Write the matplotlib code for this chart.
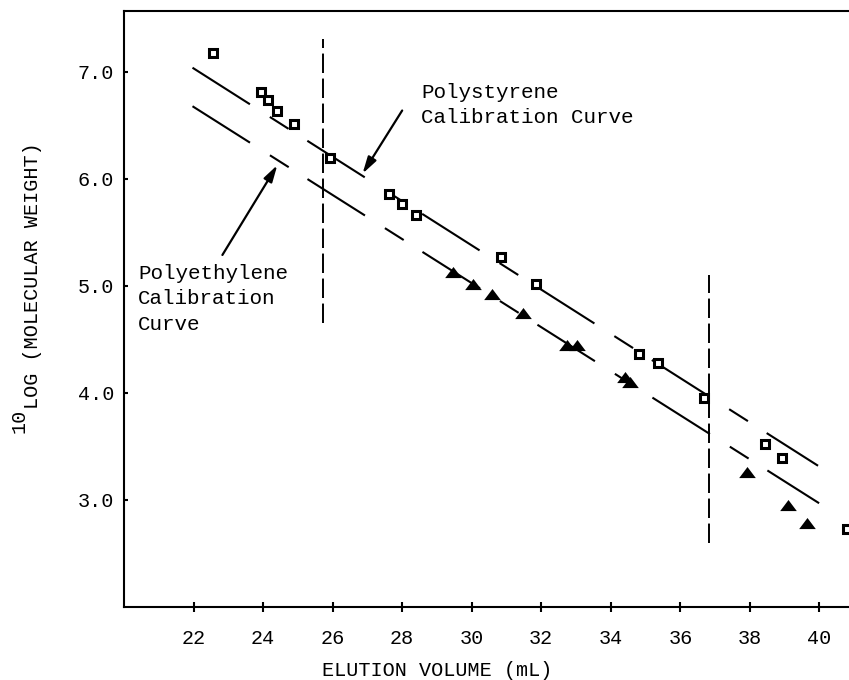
import matplotlib
matplotlib.use("Agg")
import matplotlib.pyplot as plt

# ---- data ----
ps_x = [22.57, 23.95, 24.15, 24.41, 24.90, 25.93, 27.63, 27.99, 28.40, 30.85,
        31.85, 34.82, 35.37, 36.68, 38.43, 38.92, 40.79]
ps_y = [7.18, 6.81, 6.74, 6.64, 6.51, 6.20, 5.86, 5.77, 5.66, 5.27,
        5.02, 4.36, 4.28, 3.95, 3.52, 3.39, 2.73]
pe_x = [29.47, 30.04, 30.59, 31.48, 32.75, 33.03, 34.41, 34.56, 37.92, 39.10, 39.64]
pe_y = [5.12, 5.01, 4.92, 4.74, 4.44, 4.44, 4.14, 4.09, 3.25, 2.94, 2.78]

ps_line_x = [21.97, 39.96]
ps_line_y = [7.04, 3.32]
pe_line_x = [21.97, 39.99]
pe_line_y = [6.68, 2.97]

vline1_x = 25.73
vline1_y = [4.65, 7.31]
vline2_x = 36.83
vline2_y = [2.60, 5.10]

x_ticks = [22, 24, 26, 28, 30, 32, 34, 36, 38, 40]
y_ticks = [3.0, 4.0, 5.0, 6.0, 7.0]
y_ticklabels = ["3.0", "4.0", "5.0", "6.0", "7.0"]

FONT = "Liberation Mono"
plt.rcParams["font.family"] = [FONT, "DejaVu Sans Mono"]
plt.rcParams["lines.scale_dashes"] = False

W, H = 849, 680
fig = plt.figure(figsize=(W / 100, H / 100), dpi=100)
ax = fig.add_axes([124 / W, 1 - 607 / H, (W - 124) / W, (607 - 11) / H])
ax.set_xlim(20, 40.85)
ax.set_ylim(2.0, 7.57)

# calibration lines
dash = (0, (49, 17, 16, 16))
ax.plot(ps_line_x, ps_line_y, color="black", lw=1.5, linestyle=dash, zorder=2)
ax.plot(pe_line_x, pe_line_y, color="black", lw=1.5, linestyle=dash, zorder=2)

# vertical dashed lines
vdash = (0, (14, 4))
ax.plot([vline1_x, vline1_x], vline1_y, color="black", lw=1.4, linestyle=vdash, zorder=2)
ax.plot([vline2_x, vline2_x], vline2_y, color="black", lw=1.4, linestyle=vdash, zorder=2)

# data markers
ax.plot(ps_x, ps_y, linestyle="none", marker="s", ms=5.4, mew=2.2,
        mfc="white", mec="black", zorder=4, clip_on=False)
tri = [(-1, -0.55), (1, -0.55), (0, 0.78)]
ax.plot(pe_x, pe_y, linestyle="none", marker=tri, ms=12, mew=0,
        mfc="black", zorder=4)

# annotations
ax.text(28.55, 6.90, "Polystyrene\nCalibration Curve", fontsize=15,
        ha="left", va="top", linespacing=1.45, family=FONT)
ax.text(20.41, 5.21, "Polyethylene\nCalibration\nCurve", fontsize=15,
        ha="left", va="top", linespacing=1.45, family=FONT)
aprops = dict(arrowstyle="-|>,head_length=1.0,head_width=0.28", lw=1.6,
              color="black", shrinkA=0, shrinkB=0)
ax.annotate("", xy=(26.86, 6.05), xytext=(28.0, 6.64), arrowprops=aprops)
ax.annotate("", xy=(24.41, 6.13), xytext=(22.83, 5.29), arrowprops=aprops)

# axes styling
for s in ["left", "bottom", "top"]:
    ax.spines[s].set_linewidth(1.5)
ax.spines["right"].set_visible(False)
ax.set_xticks(x_ticks)
ax.set_yticks(y_ticks)
ax.set_yticklabels(y_ticklabels)
ax.tick_params(axis="x", direction="inout", length=7, width=1.5, pad=12,
               labelsize=14.5, colors="black")
ax.tick_params(axis="y", direction="in", length=3, width=1.5, pad=7,
               labelsize=14.5, colors="black")

# axis labels
fig.text(437 / W, 1 - 670 / H, "ELUTION VOLUME (mL)", fontsize=14.5,
         ha="center", va="center", family=FONT)
fig.text(19 / W, 1 - 421 / H, "10", fontsize=14.5, rotation=90,
         ha="center", va="center", family=FONT)
fig.text(33 / W, 1 - 409 / H, "LOG (MOLECULAR WEIGHT)", fontsize=14.5,
         rotation=90, ha="center", va="bottom", family=FONT)

fig.savefig("out.png", dpi=100)
